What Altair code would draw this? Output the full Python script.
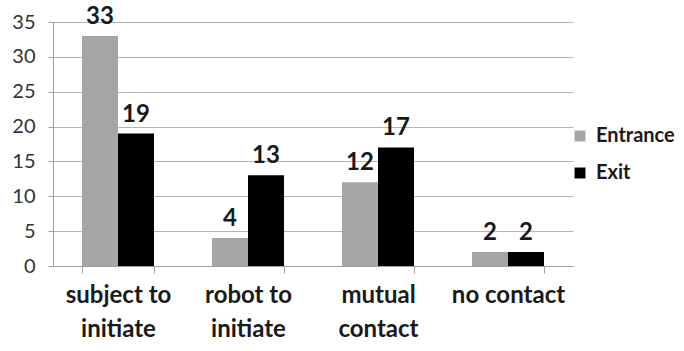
import altair as alt
import pandas as pd

categories = ["subject to\ninitiate", "robot to\ninitiate", "mutual\ncontact", "no contact"]
series = ["Entrance", "Exit"]
entrance = [33, 4, 12, 2]
exit_ = [19, 13, 17, 2]
y_ticks = [0, 5, 10, 15, 20, 25, 30, 35]

rows = []
for c, e, x in zip(categories, entrance, exit_):
    rows.append({"cat": c, "series": "Entrance", "value": e})
    rows.append({"cat": c, "series": "Exit", "value": x})
df = pd.DataFrame(rows)

FONT = "Lato"

x_enc = alt.X(
    "cat:N",
    sort=categories,
    title=None,
    scale=alt.Scale(paddingInner=0.446, paddingOuter=0.223),
    axis=alt.Axis(
        labelExpr="split(datum.label, '\\n')",
        labelAngle=0,
        labelFontSize=24,
        labelFont=FONT,
        labelFontWeight="bold",
        labelColor="#1a1a1a",
        labelPadding=10,
        labelLineHeight=34,
        labelBaseline="top",
        tickBand="extent",
        tickSize=7,
        tickColor="#a0a0a0",
        domainColor="#a0a0a0",
        grid=False,
    ),
)
xoff = alt.XOffset("series:N", sort=series, scale=alt.Scale(paddingInner=0, paddingOuter=0))
y_enc = alt.Y(
    "value:Q",
    title=None,
    scale=alt.Scale(domain=[0, 35], nice=False),
    axis=alt.Axis(
        values=y_ticks,
        tickCount=8,
        labelOverlap=False,
        labelFontSize=20,
        labelFont=FONT,
        labelColor="#333333",
        labelPadding=13,
        tickSize=5,
        tickColor="#a0a0a0",
        domainColor="#a0a0a0",
        gridColor="#b5b5b5",
        gridWidth=1,
    ),
)

color = alt.Color(
    "series:N",
    sort=series,
    scale=alt.Scale(domain=series, range=["#a6a6a6", "#000000"]),
    legend=alt.Legend(
        title=None,
        orient="none",
        legendX=517,
        legendY=104,
        symbolType="square",
        symbolSize=120,
        symbolStrokeWidth=0,
        labelFontSize=20,
        labelFont=FONT,
        labelFontWeight="bold",
        labelColor="#1a1a1a",
        rowPadding=17,
        labelOffset=6,
    ),
)

bars = alt.Chart(df).mark_bar(size=36).encode(x=x_enc, xOffset=xoff, y=y_enc, color=color)

labels = alt.Chart(df).mark_text(
    baseline="bottom", dy=-7, fontSize=24, font=FONT, fontWeight="bold", color="#1a1a1a"
).encode(x=x_enc, xOffset=xoff, y=y_enc, text="value:Q")

chart = (
    alt.layer(bars, labels)
    .properties(
        width=520,
        height=244,
        padding={"left": 53, "top": 22, "right": 111, "bottom": 85},
        autosize=alt.AutoSizeParams(type="none"),
        background="white",
    )
    .configure_view(stroke=None)
)

chart.save("out.html", embed_options={"renderer": "svg", "actions": False})
